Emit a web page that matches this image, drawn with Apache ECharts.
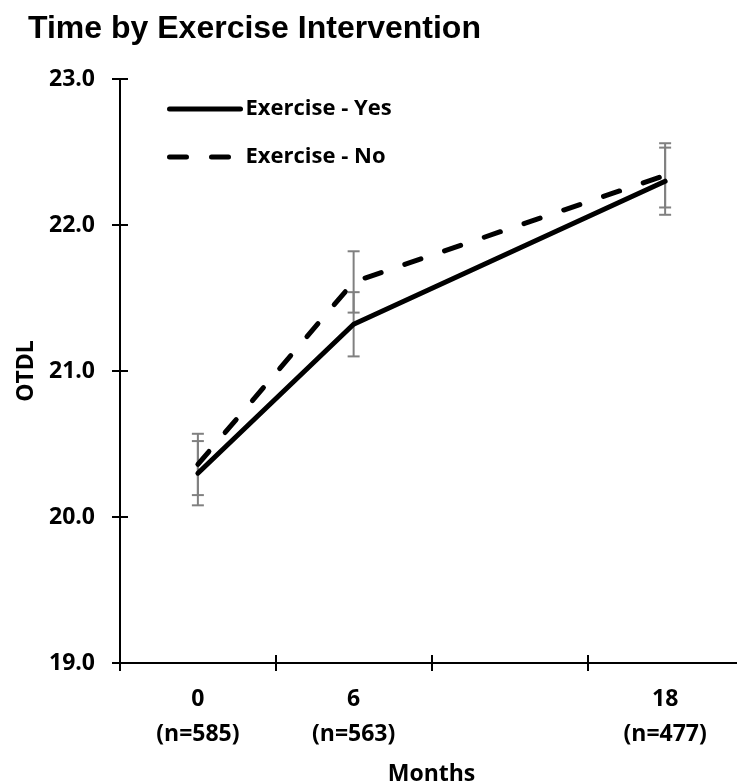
<!DOCTYPE html>
<html>
<head>
<meta charset="utf-8">
<title>Time by Exercise Intervention</title>
<script src="https://cdn.jsdelivr.net/npm/echarts@6/dist/echarts.min.js"></script>
<style>
  html, body { margin: 0; padding: 0; background: #fff; }
  #chart { width: 737px; height: 783px; }
</style>
</head>
<body>
<div id="chart"></div>
<script>
// Follow-up visits (months) and number of participants at each visit
const months = [0, 6, 18];
const sampleSizes = [585, 563, 477];

// Mean OTDL score and standard error per group
const yesMean = [20.30, 21.32, 22.30];
const yesErr = [0.22, 0.22, 0.23];
const noMean = [20.36, 21.61, 22.34];
const noErr = [0.21, 0.21, 0.22];

// Axis layout values
const monthTicks = [-3, 3, 9, 15, 21];

const seriesNames = ['Exercise - Yes', 'Exercise - No'];

const labelFont = '"Open Sans", "Noto Sans", sans-serif';
const ink = '#000';
const barGrey = '#808080';

function pairs(xs, ys) {
  return xs.map((x, i) => [x, ys[i]]);
}
function ranges(xs, ms, es) {
  return xs.map((x, i) => [x, +(ms[i] - es[i]).toFixed(3), +(ms[i] + es[i]).toFixed(3)]);
}

// Vertical whisker with short caps at both ends
function renderErrorBar(params, api) {
  const lo = api.coord([api.value(0), api.value(1)]);
  const hi = api.coord([api.value(0), api.value(2)]);
  const half = 6;
  const style = { stroke: barGrey, lineWidth: 2, fill: null };
  return {
    type: 'group',
    children: [
      { type: 'line', shape: { x1: lo[0], y1: lo[1], x2: hi[0], y2: hi[1] }, style },
      { type: 'line', shape: { x1: lo[0] - half, y1: lo[1], x2: lo[0] + half, y2: lo[1] }, style },
      { type: 'line', shape: { x1: hi[0] - half, y1: hi[1], x2: hi[0] + half, y2: hi[1] }, style }
    ]
  };
}

const monthLabel = (v) => {
  const i = months.indexOf(v);
  return i < 0 ? '' : v + '\n(n=' + sampleSizes[i] + ')';
};

const axisText = {
  color: ink,
  fontFamily: labelFont,
  fontWeight: 'bold',
  fontSize: 23
};

const chart = echarts.init(document.getElementById('chart'), null, { renderer: 'canvas' });

chart.setOption({
  animation: false,
  backgroundColor: '#fff',
  title: {
    text: 'Time by Exercise Intervention',
    left: 28,
    top: 13,
    padding: 0,
    textStyle: {
      color: ink,
      fontFamily: '"Liberation Sans", Arial, sans-serif',
      fontWeight: 'bold',
      fontSize: 32
    }
  },
  legend: {
    orient: 'vertical',
    left: 167,
    top: 97,
    padding: 0,
    itemWidth: 71,
    itemHeight: 24,
    itemGap: 24,
    selectedMode: false,
    data: seriesNames,
    lineStyle: { width: 5 },
    // hide the marker drawn in the middle of each line sample
    itemStyle: { opacity: 0, borderWidth: 0 },
    textStyle: {
      color: ink,
      fontFamily: labelFont,
      fontWeight: 'bold',
      fontSize: 22,
      lineHeight: 24
    }
  },
  grid: {
    left: 120,
    top: 79,
    width: 623,
    height: 584,
    containLabel: false,
    outerBoundsMode: 'none'
  },
  xAxis: [
    {
      type: 'value',
      min: -3,
      max: 21,
      name: 'Months',
      nameLocation: 'middle',
      nameGap: 100,
      nameTextStyle: axisText,
      axisLine: { show: true, onZero: false, lineStyle: { color: ink, width: 2 } },
      axisTick: { show: true, inside: false, length: 8, customValues: monthTicks, lineStyle: { color: ink, width: 2 } },
      axisLabel: {
        customValues: months,
        formatter: monthLabel,
        margin: 19,
        lineHeight: 35,
        ...axisText
      },
      splitLine: { show: false }
    },
    {
      // inner half of the crossing ticks
      type: 'value',
      min: -3,
      max: 21,
      position: 'bottom',
      axisLine: { show: false, onZero: false },
      axisTick: { show: true, inside: true, length: 8, customValues: monthTicks, lineStyle: { color: ink, width: 2 } },
      axisLabel: { show: false },
      splitLine: { show: false }
    }
  ],
  yAxis: [
    {
      type: 'value',
      min: 19,
      max: 23,
      interval: 1,
      name: 'OTDL',
      nameLocation: 'middle',
      nameGap: 82,
      nameRotate: 90,
      nameTextStyle: axisText,
      axisLine: { show: true, onZero: false, lineStyle: { color: ink, width: 2 } },
      axisTick: { show: true, inside: false, length: 8, lineStyle: { color: ink, width: 2 } },
      axisLabel: {
        margin: 25,
        formatter: (v) => v.toFixed(1),
        ...axisText
      },
      splitLine: { show: false }
    },
    {
      type: 'value',
      min: 19,
      max: 23,
      interval: 1,
      position: 'left',
      axisLine: { show: false, onZero: false },
      axisTick: { show: true, inside: true, length: 8, lineStyle: { color: ink, width: 2 } },
      axisLabel: { show: false },
      splitLine: { show: false }
    }
  ],
  series: [
    {
      name: 'Exercise - Yes (SE)',
      type: 'custom',
      renderItem: renderErrorBar,
      encode: { x: 0, y: [1, 2] },
      data: ranges(months, yesMean, yesErr),
      z: 1,
      silent: true
    },
    {
      name: 'Exercise - No (SE)',
      type: 'custom',
      renderItem: renderErrorBar,
      encode: { x: 0, y: [1, 2] },
      data: ranges(months, noMean, noErr),
      z: 1,
      silent: true
    },
    {
      name: seriesNames[0],
      type: 'line',
      data: pairs(months, yesMean),
      symbol: 'none',
      z: 3,
      color: ink,
      lineStyle: { color: ink, width: 5, cap: 'round', join: 'round' }
    },
    {
      name: seriesNames[1],
      type: 'line',
      data: pairs(months, noMean),
      symbol: 'none',
      z: 3,
      color: ink,
      lineStyle: { color: ink, width: 5, type: [17, 25], cap: 'round', join: 'round' }
    }
  ]
});
</script>
</body>
</html>
